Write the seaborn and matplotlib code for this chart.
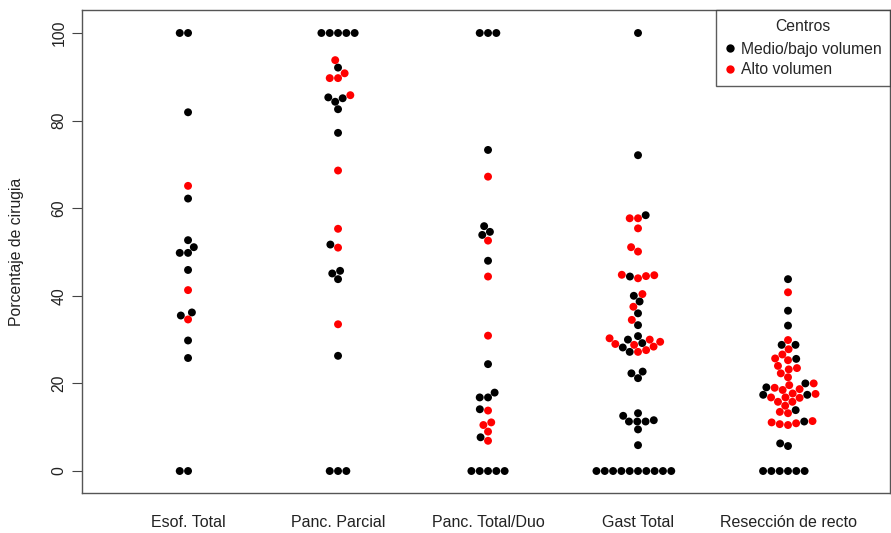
import matplotlib
matplotlib.use("Agg")
import matplotlib.pyplot as plt
import seaborn as sns
import pandas as pd
from matplotlib.lines import Line2D

categories = ["Esof. Total", "Panc. Parcial", "Panc. Total/Duo", "Gast Total", "Resección de recto"]
groups = ["Medio/bajo volumen", "Alto volumen"]
colors = ["black", "red"]

esof_medio = [100, 100, 81.9, 62.2, 52.7, 51.1, 49.8, 49.8, 45.9, 36.2, 35.5, 29.8, 25.8, 0, 0]
esof_alto = [65.1, 41.3, 34.6]

pancp_medio = [100, 100, 100, 100, 100, 92.1, 85.3, 85.1, 84.3, 82.6, 77.2, 51.7, 45.7, 45.1, 43.8, 26.3, 0, 0, 0]
pancp_alto = [93.8, 90.8, 89.7, 89.7, 85.8, 68.6, 55.3, 51.0, 33.5]

panct_medio = [100, 100, 100, 73.3, 55.9, 54.6, 53.9, 48.0, 24.4, 17.9, 16.8, 16.8, 14.1, 7.7, 0, 0, 0, 0, 0]
panct_alto = [67.2, 52.6, 44.4, 30.9, 13.8, 11.1, 10.5, 9.0, 6.9]

gast_medio = [100, 72.1, 58.4, 44.4, 40.0, 38.7, 36.0, 33.3, 30.8, 30.0, 29.2, 28.2, 27.2,
              22.7, 22.3, 21.2, 13.2, 12.6, 11.6, 11.3, 11.3, 11.3, 9.5, 5.9,
              0, 0, 0, 0, 0, 0, 0, 0, 0, 0]
gast_alto = [57.7, 57.7, 55.4, 51.1, 50.1, 44.0, 44.5, 44.8, 44.7, 40.4, 37.5, 34.5,
             30.3, 30.0, 29.5, 29.0, 28.8, 28.4, 27.6, 27.2]

recto_medio = [43.8, 36.6, 33.2, 28.8, 28.8, 25.6, 20.0, 19.1, 17.4, 17.4, 13.9, 11.3, 6.3, 5.7,
               0, 0, 0, 0, 0, 0]
recto_alto = [40.8, 29.9, 27.8, 26.6, 25.7, 25.3, 24.0, 23.2, 23.5, 22.3, 21.4, 20.0, 19.6,
              19.0, 18.7, 18.5, 17.7, 17.6, 16.8, 16.7, 16.8, 15.8, 15.8, 14.9, 13.5, 13.2,
              10.9, 10.5, 10.7, 11.1, 11.4]

medio = [esof_medio, pancp_medio, panct_medio, gast_medio, recto_medio]
alto = [esof_alto, pancp_alto, panct_alto, gast_alto, recto_alto]

rows = []
for cat, m, a in zip(categories, medio, alto):
    for v in m:
        rows.append((cat, groups[0], v))
    for v in a:
        rows.append((cat, groups[1], v))
df = pd.DataFrame(rows, columns=["cat", "grupo", "valor"])

sns.set_style("white")
plt.rcParams['font.family'] = ['Liberation Sans', 'DejaVu Sans']

fig = plt.figure(figsize=(8.91, 5.33), dpi=100)
ax = fig.add_axes([82/891, 40/533, (890-82)/891, (493-10)/533])
ax.set_xlim(-0.707, 4.68)
ax.set_ylim(-5.02, 105.25)

sns.swarmplot(data=df, x="cat", y="valor", hue="grupo", order=categories,
              hue_order=groups, palette=colors, size=5.7, linewidth=0,
              ax=ax, legend=False)
ax.set_xlim(-0.707, 4.68)
ax.set_ylim(-5.02, 105.25)

ax.set_xlabel("")
ax.set_ylabel("Porcentaje de cirugia", fontsize=11.3, color="#222222", labelpad=20)
ax.set_yticks([0, 20, 40, 60, 80, 100])
ax.set_yticklabels(["0", "20", "40", "60", "80", "100"], rotation=90, va="center",
                   fontsize=11.3, color="#222222")
ax.tick_params(axis="y", direction="out", length=7, width=0.8, color="#444444", left=True, pad=4)
ax.tick_params(axis="x", length=0, pad=16, labelsize=11.5, labelcolor="#222222")
for s in ax.spines.values():
    s.set_visible(True)
    s.set_color("#555555")
    s.set_linewidth(1.0)

handles = [Line2D([0], [0], marker="o", color="none", markerfacecolor=c, markeredgecolor="none",
                  markersize=6) for c in colors]
leg = ax.legend(handles, groups, title="Centros", loc="upper right", frameon=True,
                fancybox=False, fontsize=11.3, title_fontsize=11.3, borderaxespad=0,
                handletextpad=0.25, handlelength=0.8, borderpad=0.55, labelspacing=0.35)
leg.get_frame().set_edgecolor("#333333")
leg.get_frame().set_linewidth(1.0)
leg._legend_box.sep = 6

fig.savefig("out.png", dpi=100, facecolor="white")
